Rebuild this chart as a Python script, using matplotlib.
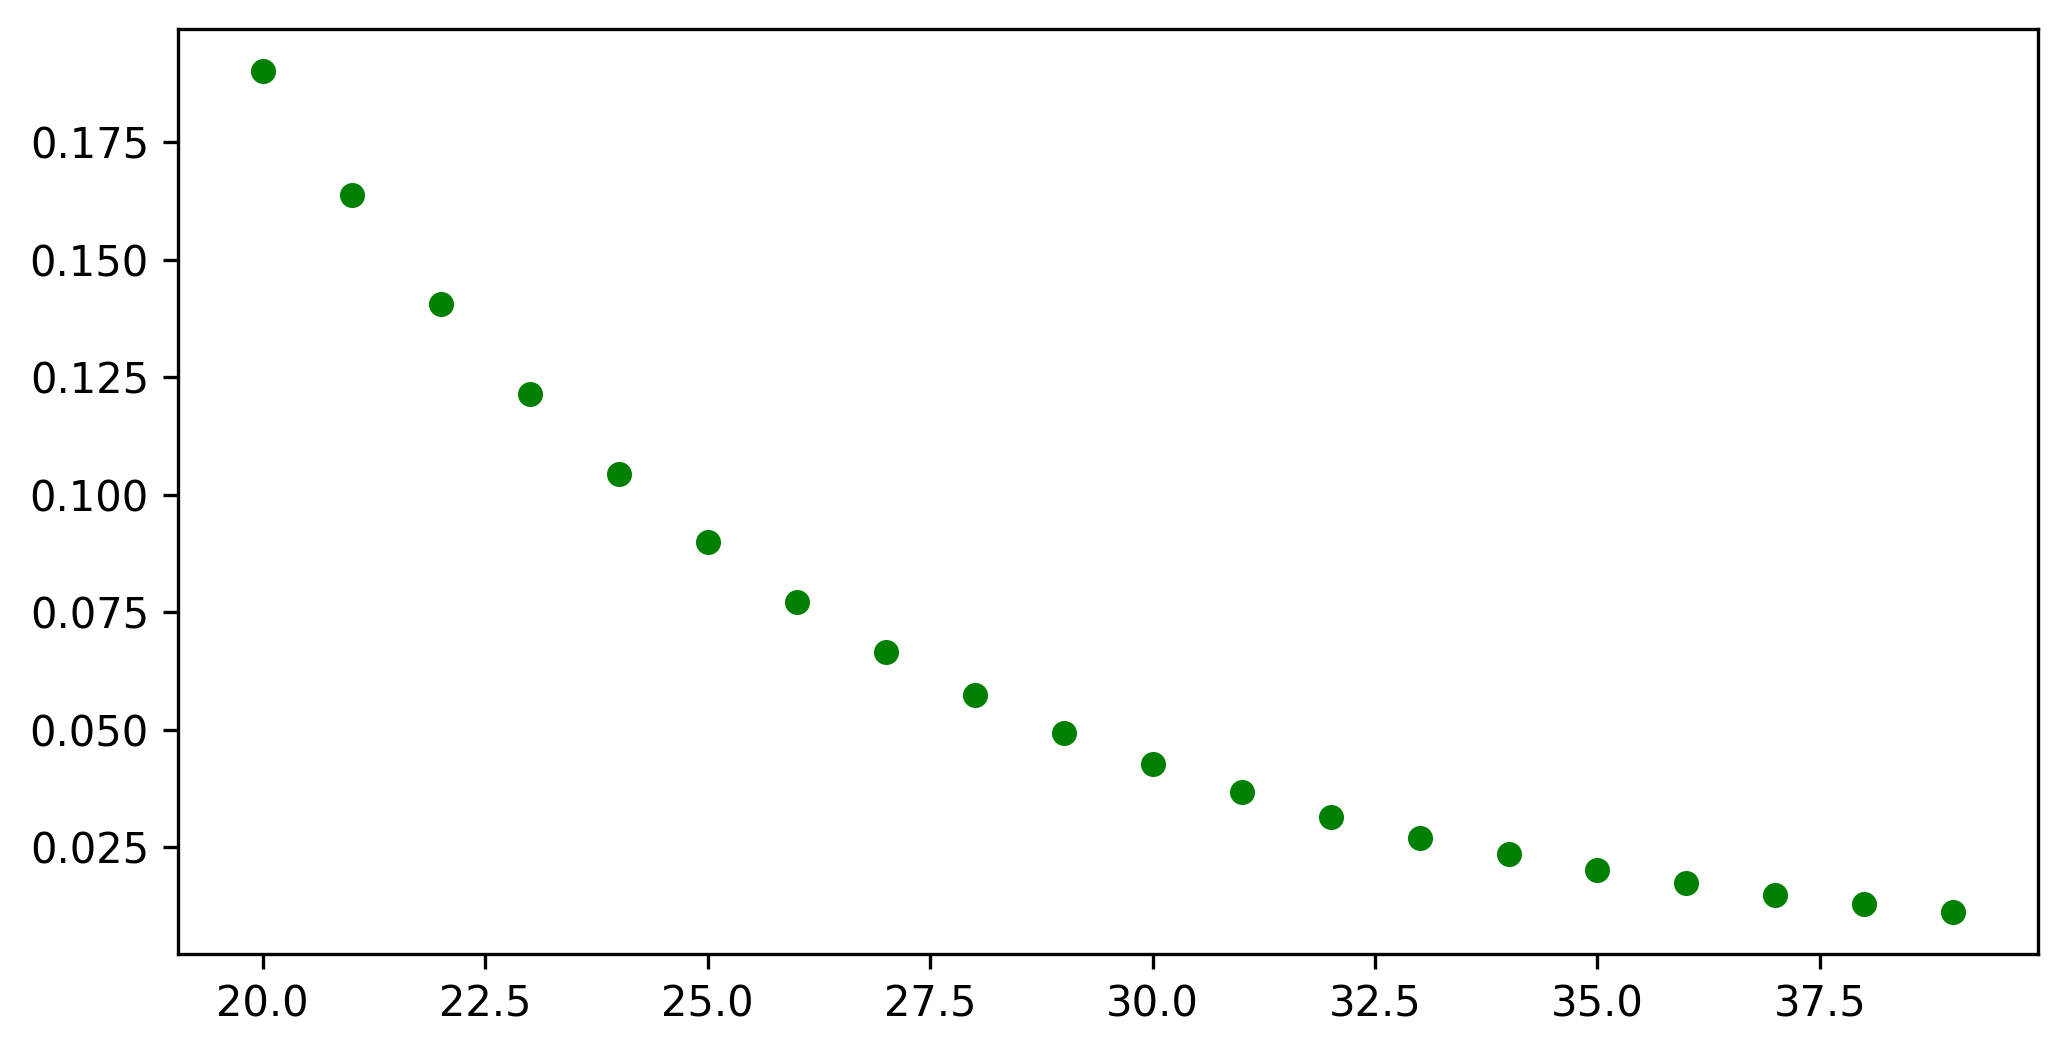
import matplotlib
matplotlib.use('Agg')
import matplotlib.pyplot as plt

# valores
x = [20, 21, 22, 23, 24, 25, 26, 27, 28, 29,
     30, 31, 32, 33, 34, 35, 36, 37, 38, 39]
y = [0.1902, 0.1638, 0.1407, 0.1214, 0.1045, 0.0899, 0.0772, 0.0666, 0.0573, 0.0494,
     0.0427, 0.0368, 0.0315, 0.0270, 0.0236, 0.0202, 0.0174, 0.0149, 0.0129, 0.0112]

fig = plt.figure(figsize=(2068 / 300, 1055 / 300), dpi=300)
ax = fig.add_axes([0.0861, 0.0957, 0.8994, 0.8768])
ax.scatter(x, y, color='green', s=25)

fig.savefig('out.png', dpi=300)
